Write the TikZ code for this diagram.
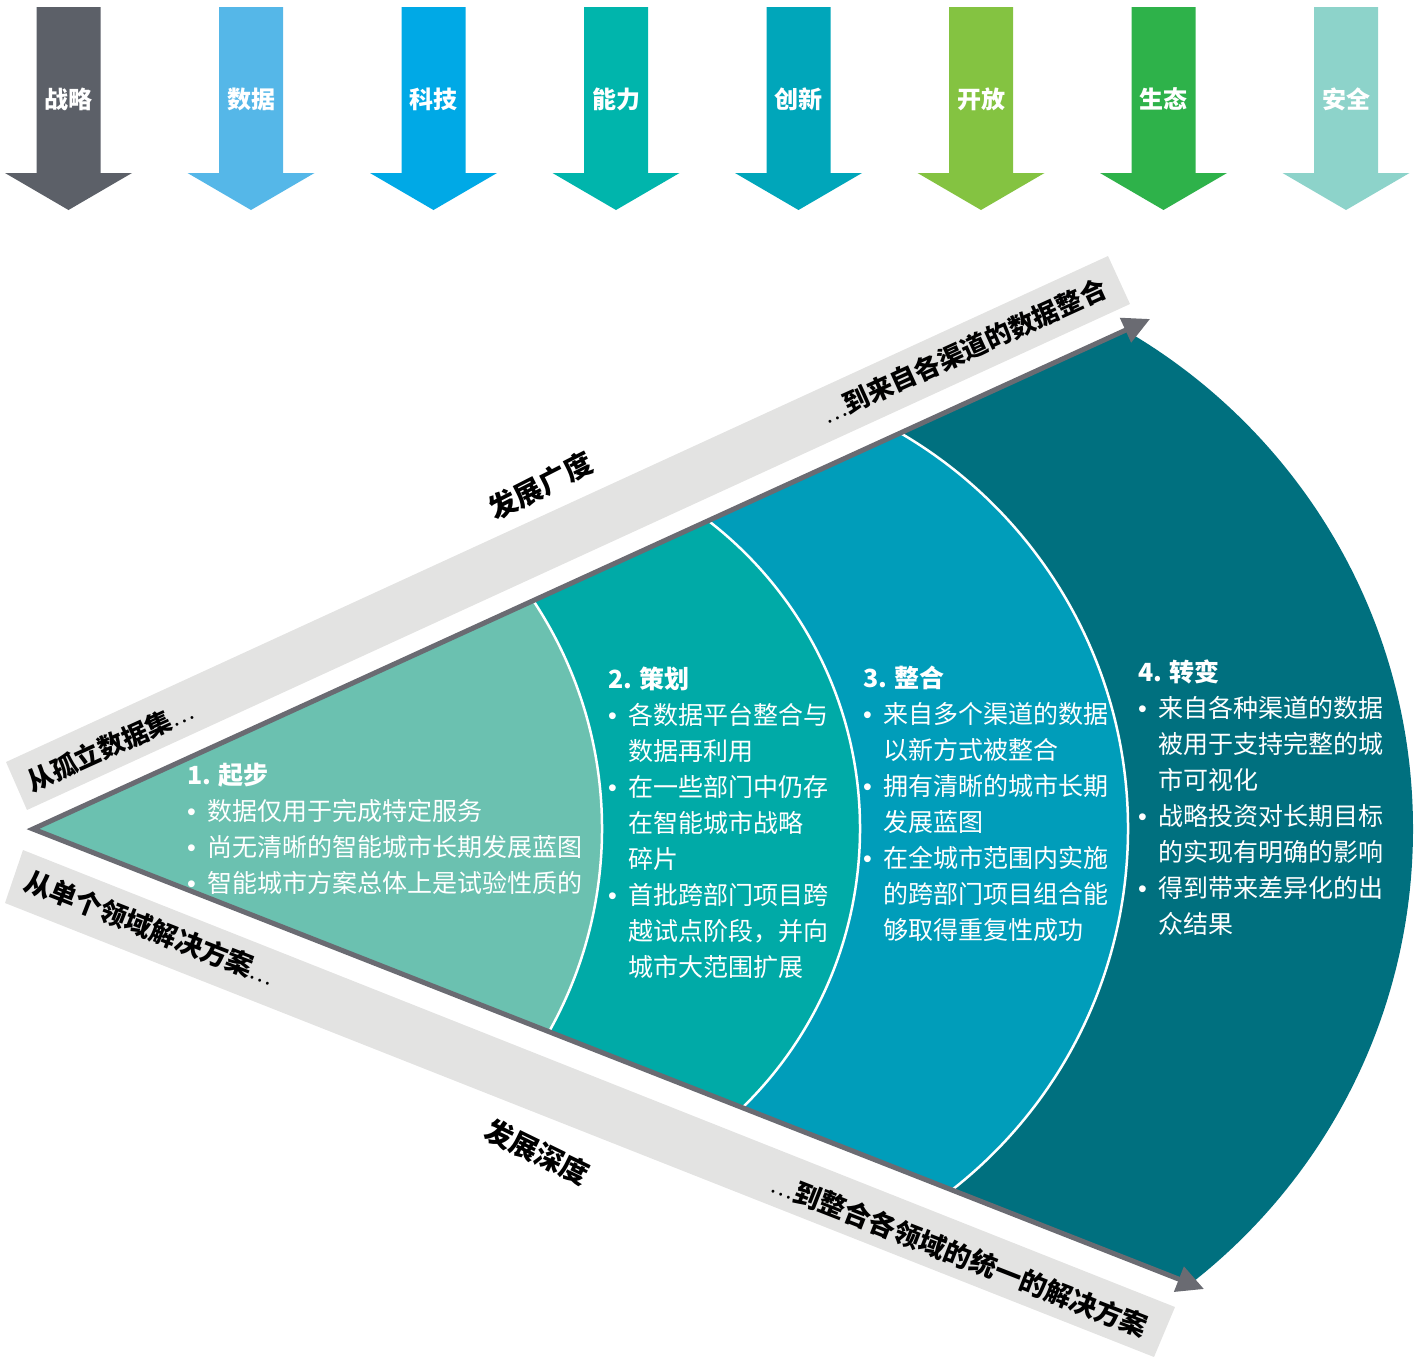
\documentclass[tikz,border=0pt]{standalone}
\usepackage{fontspec}
\setmainfont{Noto Sans CJK SC}
\newfontfamily\dotfont{Liberation Sans}
\usetikzlibrary{arrows.meta,calc}

\definecolor{pillarA}{HTML}{5C6068}
\definecolor{pillarB}{HTML}{55B7E8}
\definecolor{pillarC}{HTML}{00A9E6}
\definecolor{pillarD}{HTML}{00B5AC}
\definecolor{pillarE}{HTML}{00A6BA}
\definecolor{pillarF}{HTML}{84C341}
\definecolor{pillarG}{HTML}{2EB24A}
\definecolor{pillarH}{HTML}{8DD3CA}
\definecolor{stageA}{HTML}{6BC1B0}
\definecolor{stageB}{HTML}{00AAA7}
\definecolor{stageC}{HTML}{009DBA}
\definecolor{stageD}{HTML}{00707F}
\definecolor{bandgray}{HTML}{E3E3E2}
\definecolor{axisgray}{HTML}{6A6B72}

\newcommand{\itm}{\makebox[20pt][l]{\dotfont •}}
\newcommand{\ind}{\hspace*{20pt}}
\newcommand{\ellip}{{\mdseries\fontsize{22}{22}\selectfont …}}

\tikzset{
  pillarlbl/.style ={text=white, font=\fontsize{24}{24}\selectfont\bfseries, inner sep=0pt},
  band/.style      ={fill=bandgray},
  axis/.style      ={draw=axisgray, line width=5pt, line join=miter,
                     {Triangle[length=27pt,width=26pt]}-{Triangle[length=27pt,width=26pt]}},
  ring/.style      ={draw=white, line width=2.5pt},
  stagetxt/.style  ={text=white, align=left, anchor=base west, inner sep=0pt,
                     font=\fontsize{25}{36}\selectfont},
  bandlbl/.style   ={font=\fontsize{26}{26}\selectfont\bfseries, inner sep=0pt},
  lowbandlbl/.style={font=\fontsize{27}{27}\selectfont\bfseries, inner sep=0pt},
  bigbandlbl/.style={font=\fontsize{28}{28}\selectfont\bfseries, inner sep=0pt}
}

\begin{document}
\begin{tikzpicture}[x=1pt,y=-1pt]
\useasboundingbox (0,0) rectangle (1423,1358);

%% top row of pillars
\foreach \lbl/\col [count=\i from 0] in {战略/pillarA, 数据/pillarB, 科技/pillarC,
    能力/pillarD, 创新/pillarE, 开放/pillarF, 生态/pillarG, 安全/pillarH}{
  \pgfmathsetmacro\cx{68.5+182.5*\i}
  \fill[\col] (\cx-32,7) -- (\cx+32,7) -- (\cx+32,173) -- (\cx+63.5,173)
    -- (\cx,210) -- (\cx-63.5,173) -- (\cx-32,173) -- cycle;
  \node[pillarlbl] (pillar\i) at (\cx,99) {\lbl};
}

%% grey bands
\fill[band] (27,810) -- (6,762) -- (1108,256) -- (1130,304) -- cycle;
\fill[band] (23,850) -- (5,903) -- (1154,1357) -- (1175,1307) -- cycle;

%% the fan of stages
\coordinate (apex) at (33,829);
\coordinate (tipU) at (1150,319);
\coordinate (tipL) at (1204,1289);
\begin{scope}
  \clip (apex) -- ($(apex)!1.3!(tipU)$) -- ($(apex)!1.3!(tipL)$) -- cycle;
  \fill[stageD] (837,829) circle[radius=576];
  \fill[stageC] (670,829) circle[radius=458];
  \fill[stageB] (471,829) circle[radius=389];
  \fill[stageA] (188,829) circle[radius=414];
  \draw[ring] (670,829) ++(-85:458) arc[start angle=-85, end angle=85, radius=458];
  \draw[ring] (471,829) ++(-85:389) arc[start angle=-85, end angle=85, radius=389];
  \draw[ring] (188,829) ++(-85:414) arc[start angle=-85, end angle=85, radius=414];
\end{scope}
\draw[axis] (tipU) -- (apex) -- (tipL);

%% band labels
\node[bandlbl, rotate=24.46]     (fromset)  at (110,746)  {从孤立数据集\ellip};
\node[bigbandlbl, rotate=27]     (breadth)  at (541,486)  {发展广度};
\node[bandlbl, rotate=24.46]     (toset)    at (964,351)  {\ellip 到来自各渠道的数据整合};
\node[lowbandlbl, rotate=-21.38] (fromdom)  at (150,928)  {从单个领域解决方案\ellip};
\node[bigbandlbl, rotate=-26]    (depth)    at (537,1152) {发展深度};
\node[lowbandlbl, rotate=-21.38] (todom)    at (960,1255) {\ellip 到整合各领域的统一的解决方案};

%% stage texts (anchored on the baseline of the last line)
\node[stagetxt] (stage1) at (187,892) {{\bfseries 1. 起步}\\
  \itm 数据仅用于完成特定服务\\
  \itm 尚无清晰的智能城市长期发展蓝图\\
  \itm 智能城市方案总体上是试验性质的};
\node[stagetxt] (stage2) at (608,976) {{\bfseries 2. 策划}\\
  \itm 各数据平台整合与\\
  \ind 数据再利用\\
  \itm 在一些部门中仍存\\
  \ind 在智能城市战略\\
  \ind 碎片\\
  \itm 首批跨部门项目跨\\
  \ind 越试点阶段，并向\\
  \ind 城市大范围扩展};
\node[stagetxt] (stage3) at (863,939) {{\bfseries 3. 整合}\\
  \itm 来自多个渠道的数据\\
  \ind 以新方式被整合\\
  \itm 拥有清晰的城市长期\\
  \ind 发展蓝图\\
  \itm 在全城市范围内实施\\
  \ind 的跨部门项目组合能\\
  \ind 够取得重复性成功};
\node[stagetxt] (stage4) at (1138,933) {{\bfseries 4. 转变}\\
  \itm 来自各种渠道的数据\\
  \ind 被用于支持完整的城\\
  \ind 市可视化\\
  \itm 战略投资对长期目标\\
  \ind 的实现有明确的影响\\
  \itm 得到带来差异化的出\\
  \ind 众结果};
\end{tikzpicture}
\end{document}
